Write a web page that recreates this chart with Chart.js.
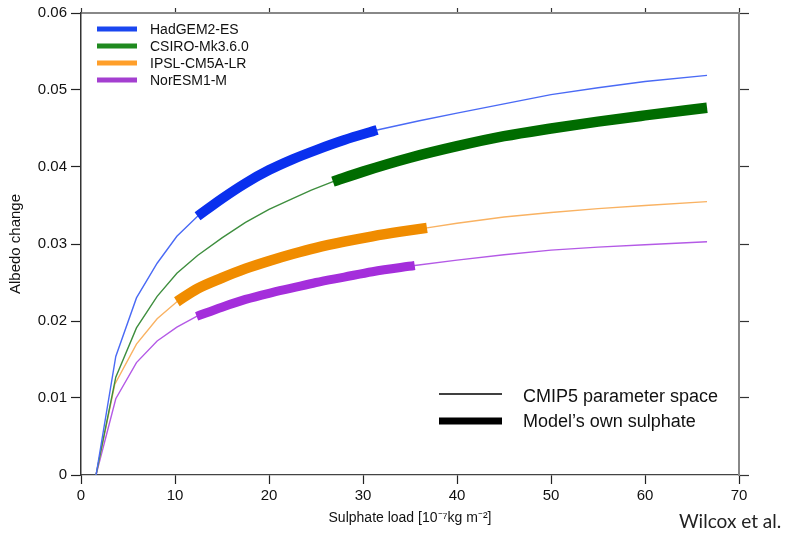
<!DOCTYPE html>
<html>
<head>
<meta charset="utf-8">
<script src="https://cdn.jsdelivr.net/npm/chart.js@4.4.1/dist/chart.umd.min.js"></script>
<style>
  html, body { margin: 0; padding: 0; background: #fff; }
  #wrap { position: relative; width: 788px; height: 533px; }
  #credit { position: absolute; left: 679px; top: 509px; font: 19px Lato, sans-serif; color: #222; white-space: nowrap; }
</style>
</head>
<body>
<div id="wrap">
  <canvas id="chart"></canvas>
  <div id="credit">Wilcox et al.</div>
</div>
<script>
// values: sulphate load (1e-7 kg m-2) vs albedo change
const models = ['HadGEM2-ES', 'CSIRO-Mk3.6.0', 'IPSL-CM5A-LR', 'NorESM1-M'];

const hadX = [1.6, 3.7, 5.9, 8.1, 10.2, 12.4, 15, 17.5, 20, 22.5, 25, 28, 31.5, 36, 40, 45, 50, 55, 60, 66.6];
const hadY = [0, 0.0154, 0.0230, 0.0275, 0.0310, 0.0336, 0.0359, 0.0379, 0.0396, 0.0410, 0.0422, 0.0435, 0.0448, 0.0460, 0.0470, 0.0482, 0.0494, 0.0503, 0.0511, 0.0519];

const csiroX = [1.6, 3.7, 5.9, 8.1, 10.2, 12.4, 15, 17.5, 20, 22.5, 24.5, 26.8, 30, 35, 40, 45, 50, 55, 60, 66.6];
const csiroY = [0, 0.0127, 0.0191, 0.0232, 0.0262, 0.0285, 0.0308, 0.0328, 0.0345, 0.0359, 0.0370, 0.0381, 0.0394, 0.0412, 0.0427, 0.0440, 0.0450, 0.0459, 0.0467, 0.0477];

const ipslX = [1.6, 3.6, 5.9, 8.1, 10.2, 12.4, 15, 17.5, 20, 22.5, 25, 28, 31, 34, 36.8, 40, 45, 50, 55, 60, 66.6];
const ipslY = [0, 0.0118, 0.0170, 0.0203, 0.0225, 0.0242, 0.0256, 0.0268, 0.0278, 0.0287, 0.0295, 0.0303, 0.0310, 0.0316, 0.0321, 0.0327, 0.0335, 0.0341, 0.0346, 0.0350, 0.0355];

const norX = [1.6, 3.7, 5.9, 8.1, 10.2, 12.3, 15, 17.5, 20, 22.5, 25, 28, 31, 35.5, 40, 45, 50, 55, 60, 66.6];
const norY = [0, 0.0099, 0.0146, 0.0174, 0.0192, 0.0206, 0.0218, 0.0228, 0.0236, 0.0243, 0.0250, 0.0257, 0.0264, 0.0272, 0.0279, 0.0286, 0.0292, 0.0296, 0.0299, 0.0303];

// range covered by each model's own sulphate (thick part)
const ownStart = [12.4, 26.8, 10.2, 12.3];
const ownEnd = [31.5, 66.6, 36.8, 35.5];

const thinColors = ['#4a6af5', '#3e8e3e', '#f9b262', '#b45ae6'];
const thickColors = ['#0a30ee', '#006c00', '#f08c00', '#a42edb'];
const keyColors = ['#1a46f0', '#1f8a1f', '#ff9f2a', '#a43fd0'];
const thickWidths = [10, 10.5, 10.5, 9];

const allX = [hadX, csiroX, ipslX, norX];
const allY = [hadY, csiroY, ipslY, norY];

function points(xs, ys) {
  return xs.map((x, i) => ({ x, y: ys[i] }));
}

const datasets = [];
models.forEach((name, i) => {
  const pts = points(allX[i], allY[i]);
  datasets.push({
    label: name,
    data: pts,
    borderColor: thinColors[i],
    borderWidth: 1.4,
    pointRadius: 0,
    tension: 0,
    order: 2
  });
  datasets.push({
    label: name + ' own',
    data: pts.filter(p => p.x >= ownStart[i] && p.x <= ownEnd[i]),
    borderColor: thickColors[i],
    borderWidth: thickWidths[i],
    borderCapStyle: 'butt',
    borderJoinStyle: 'round',
    cubicInterpolationMode: 'monotone',
    pointRadius: 0,
    order: 1
  });
});

// legends drawn inside the plot box
const keyPlugin = {
  id: 'keys',
  afterDraw(chart) {
    const ctx = chart.ctx;
    const { left, top, right, bottom } = chart.chartArea;
    ctx.save();
    ctx.textBaseline = 'middle';
    ctx.textAlign = 'left';
    ctx.font = '14px "Liberation Sans", Arial, sans-serif';
    models.forEach((name, i) => {
      const y = top + 16 + i * 17;
      ctx.strokeStyle = keyColors[i];
      ctx.lineWidth = 5;
      ctx.beginPath();
      ctx.moveTo(left + 16, y);
      ctx.lineTo(left + 56, y);
      ctx.stroke();
      ctx.fillStyle = '#111';
      ctx.fillText(name, left + 69, y + 1);
    });

    ctx.font = '18px "Liberation Sans", Arial, sans-serif';
    ctx.strokeStyle = '#000';
    ctx.lineWidth = 1.5;
    ctx.beginPath();
    ctx.moveTo(right - 300, bottom - 81);
    ctx.lineTo(right - 237, bottom - 81);
    ctx.stroke();
    ctx.lineWidth = 7;
    ctx.beginPath();
    ctx.moveTo(right - 300, bottom - 54);
    ctx.lineTo(right - 237, bottom - 54);
    ctx.stroke();
    ctx.fillStyle = '#111';
    ctx.fillText('CMIP5 parameter space', right - 216, bottom - 78);
    ctx.fillText("Model\u2019s own sulphate", right - 216, bottom - 53);
    ctx.restore();
  }
};

const font = { family: '"Liberation Sans", Arial, sans-serif' };

new Chart(document.getElementById('chart').getContext('2d'), {
  type: 'line',
  data: { datasets },
  options: {
    responsive: true,
    maintainAspectRatio: false,
    animation: false,
    events: [],
    layout: { padding: 0 },
    plugins: { legend: { display: false }, tooltip: { enabled: false } },
    scales: {
      x: {
        type: 'linear', position: 'bottom', min: 0, max: 70,
        afterFit: s => { s.height = 58; },
        border: { display: true, color: '#444', width: 1.3 },
        grid: { drawOnChartArea: false, tickLength: 9, tickColor: '#222', tickWidth: 1.2 },
        ticks: { stepSize: 10, padding: 3, color: '#111', font: { ...font, size: 15 } },
        title: {
          display: true, text: 'Sulphate load [10\u207B\u2077kg m\u207B\u00B2]',
          color: '#111', font: { ...font, size: 14 }, padding: { top: 0, bottom: 6 }
        }
      },
      xTop: {
        type: 'linear', position: 'top', min: 0, max: 70,
        afterFit: s => { s.height = 10; },
        border: { display: true, color: '#888', width: 2 },
        grid: { drawOnChartArea: false, tickLength: 5, tickColor: '#333', tickWidth: 1.2 },
        ticks: { stepSize: 10, display: false }
      },
      y: {
        type: 'linear', position: 'left', min: 0, max: 0.06,
        afterFit: s => { s.width = 81; },
        border: { display: true, color: '#333', width: 1.5 },
        grid: { drawOnChartArea: false, tickLength: 10, tickColor: '#222', tickWidth: 1.2 },
        ticks: {
          stepSize: 0.01, padding: 4, color: '#111', font: { ...font, size: 15 },
          callback: v => v === 0 ? '0' : v.toFixed(2)
        },
        title: {
          display: true, text: 'Albedo change',
          color: '#111', font: { ...font, size: 15 }, padding: { top: 7, bottom: 0 }
        }
      },
      yRight: {
        type: 'linear', position: 'right', min: 0, max: 0.06,
        afterFit: s => { s.width = 49; },
        border: { display: true, color: '#888', width: 2 },
        grid: { drawOnChartArea: false, tickLength: 10, tickColor: '#333', tickWidth: 1.2 },
        ticks: { stepSize: 0.01, display: false }
      }
    }
  },
  plugins: [keyPlugin]
});
</script>
</body>
</html>
